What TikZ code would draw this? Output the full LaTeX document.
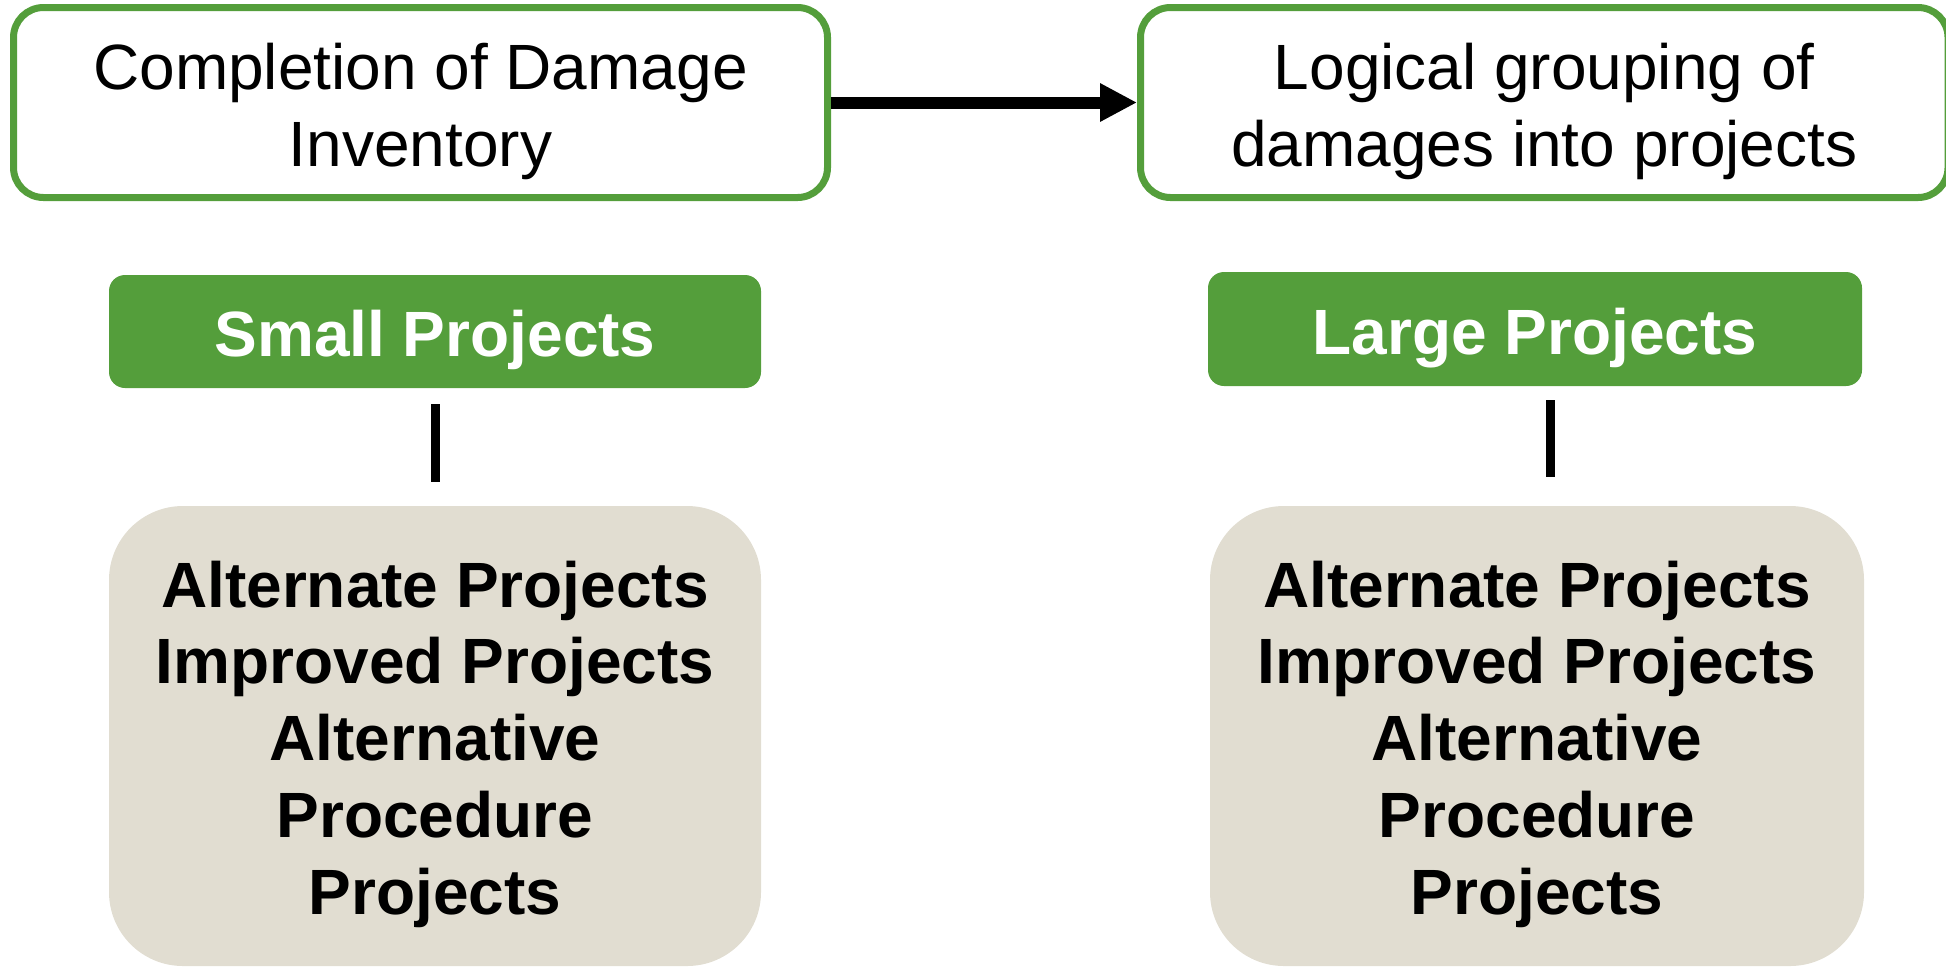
\documentclass[tikz,border=0pt]{standalone}
\usepackage{fontspec}
\setmainfont{Liberation Sans}
\usetikzlibrary{arrows.meta}
\definecolor{gr}{RGB}{84,158,59}
\definecolor{beige}{RGB}{225,221,209}
\tikzset{
  topbox/.style={draw=gr, line width=3.5pt, fill=white, rounded corners=15pt, inner sep=0pt, align=center, font=\fontsize{32}{38.4}\selectfont},
  greenbox/.style={fill=gr, rounded corners=8pt, inner sep=0pt, align=center, text=white, font=\fontsize{32}{38.4}\selectfont\bfseries},
  beigebox/.style={fill=beige, rounded corners=37pt, inner sep=0pt, align=center, font=\fontsize{32}{38.4}\selectfont\bfseries},
  flowarrow/.style={line width=6pt, -{Triangle[length=18.5pt,width=18pt]}},
  vline/.style={line width=4.5pt}
}
\begin{document}
\begin{tikzpicture}[x=0.5pt,y=-0.5pt]
\useasboundingbox (0,0) rectangle (1946,966);
\node[topbox, minimum width=407pt, minimum height=95pt] (c1) at (420.5,102.5) {\rule{0pt}{32pt}Completion of Damage\\Inventory};
\node[topbox, minimum width=403.75pt, minimum height=95pt] (c2) at (1544.25,102.5) {\rule{0pt}{32pt}Logical grouping of\\damages into projects};
\draw[flowarrow] (c1.east) -- (c2.west);
\node[greenbox, minimum width=326pt, minimum height=56.5pt] (sp) at (435,331.5) {\rule{0pt}{32pt}Small Projects};
\node[greenbox, minimum width=327pt, minimum height=57pt] (lp) at (1535,329) {\rule{0pt}{32pt}Large Projects};
\node[beigebox, minimum width=326pt, minimum height=230pt] (al) at (435,736) {\rule{0pt}{31.3pt}Alternate Projects\\Improved Projects\\Alternative\\Procedure\\Projects};
\node[beigebox, minimum width=327pt, minimum height=230pt] (ar) at (1537,736) {\rule{0pt}{31.3pt}Alternate Projects\\Improved Projects\\Alternative\\Procedure\\Projects};
\draw[vline] ([xshift=0.25pt,yshift=-8pt]sp.south) -- ([xshift=0.25pt,yshift=12pt]al.north);
\draw[vline] ([xshift=7.5pt,yshift=-7pt]lp.south) -- ([xshift=6.5pt,yshift=14.5pt]ar.north);
\end{tikzpicture}
\end{document}
